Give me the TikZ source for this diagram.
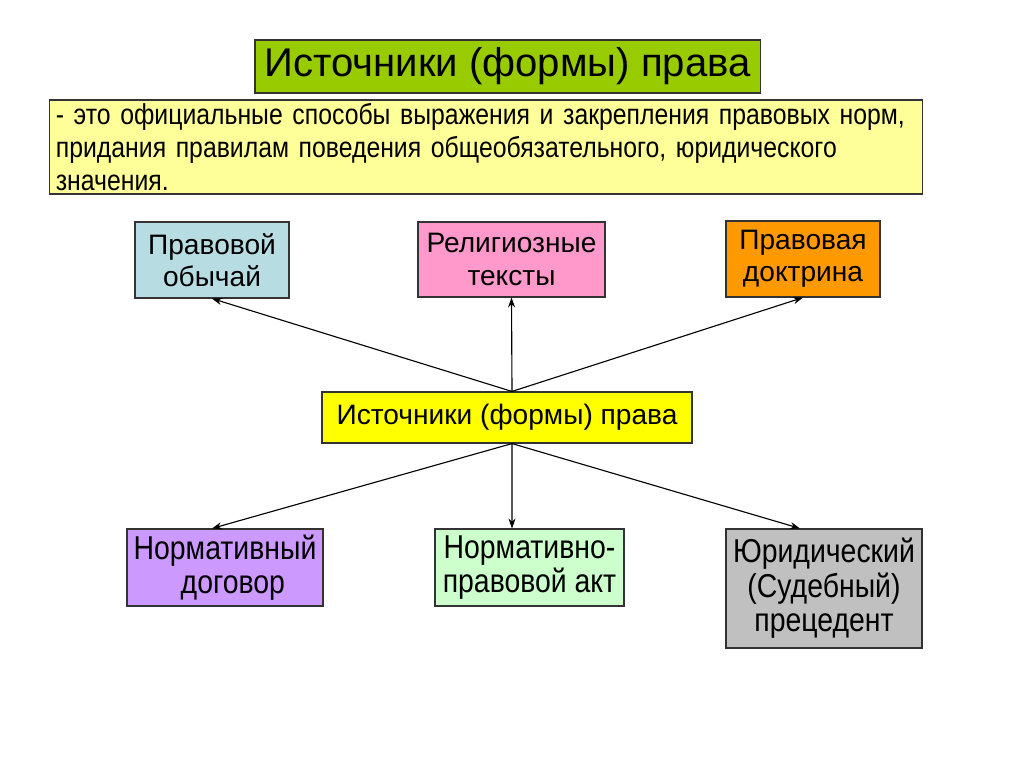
\documentclass[tikz,border=0pt]{standalone}
\usepackage{fontspec}
\setmainfont{Liberation Sans}
\newfontfamily\narrowfont[FakeStretch=0.86]{Liberation Sans}
\usepackage{xcolor}
\usetikzlibrary{arrows.meta}

\definecolor{titlegreen}{HTML}{99CC00}
\definecolor{defyellow}{HTML}{FFFF99}
\definecolor{obychaiblue}{HTML}{B7DDE3}
\definecolor{religpink}{HTML}{FF99CC}
\definecolor{doctrorange}{HTML}{FF9900}
\definecolor{centeryellow}{HTML}{FFFF00}
\definecolor{dogovorviolet}{HTML}{CC99FF}
\definecolor{aktgreen}{HTML}{CCFFCC}
\definecolor{precgrey}{HTML}{C0C0C0}

\tikzset{
  formbox/.style={draw=black!80,line width=0.8pt,align=center,inner sep=0pt,
    font=\fontsize{20}{23}\selectfont},
  narrowbox/.style={formbox,font=\narrowfont\fontsize{23.5}{24.5}\selectfont},
  link/.style={-{Stealth[length=7pt,width=5pt]},line width=0.8pt}
}

\begin{document}
\begin{tikzpicture}[x=0.025cm,y=-0.025cm]
        \useasboundingbox[fill=white] (0,0) rectangle (1024,767);

        % Top: title and definition
        \node[formbox,fill=titlegreen,minimum width=12.625cm,minimum height=1.325cm,
              font=\fontsize{28.5}{32}\selectfont] (title) at (507.5,66.5) {Источники (формы) права};
        \node[formbox,fill=defyellow,minimum width=21.8cm,minimum height=2.35cm,
              align=left,text width=21.5cm,font=\narrowfont\fontsize{20.5}{23.5}\selectfont]
              (def) at (486,147) {- это официальные способы выражения и закрепления правовых норм,\\
              придания правилам поведения общеобязательного, юридического\\
              значения.};

        % Upper row of forms
        \node[formbox,fill=obychaiblue,minimum width=3.85cm,minimum height=1.9cm] (obychai) at (212,260) {Правовой\\обычай};
        \node[formbox,fill=religpink,minimum width=4.675cm,minimum height=1.875cm] (relig) at (511.5,259.5) {Религиозные\\тексты};
        \node[formbox,fill=doctrorange,minimum width=3.85cm,minimum height=1.9cm] (doctr) at (803,259) {Правовая\\доктрина};

        % Centre
        \node[formbox,fill=centeryellow,minimum width=9.25cm,minimum height=1.275cm] (src) at (507,417.5) {Источники (формы) права};
        \coordinate (srcup) at ([xshift=0.125cm]src.north);
        \coordinate (srcdown) at ([xshift=0.125cm]src.south);

        % Lower row of forms
        \node[narrowbox,fill=dogovorviolet,minimum width=4.9cm,minimum height=1.925cm] (dogovor) at (225,567.5) {Нормативный\\\ \ договор};
        \node[narrowbox,fill=aktgreen,minimum width=4.725cm,minimum height=1.925cm] (akt) at (529.5,567.5) {Нормативно-\\правовой акт};
        \node[narrowbox,fill=precgrey,minimum width=4.9cm,minimum height=2.975cm] (prec) at (824,588.5) {Юридический\\(Судебный)\\прецедент};

        % Arrows
        \draw[link] (srcup) -- (obychai.south);
        \draw[link] (srcup) -- (relig.south);
        \draw[link] (srcup) -- (doctr.south);
        \draw[link] (srcdown) -- ([xshift=-0.325cm]dogovor.north);
        \draw[link] (srcdown) -- ([xshift=-0.4375cm]akt.north);
        \draw[link] (srcdown) -- ([xshift=-0.6cm]prec.north);
    \end{tikzpicture}
\end{document}
